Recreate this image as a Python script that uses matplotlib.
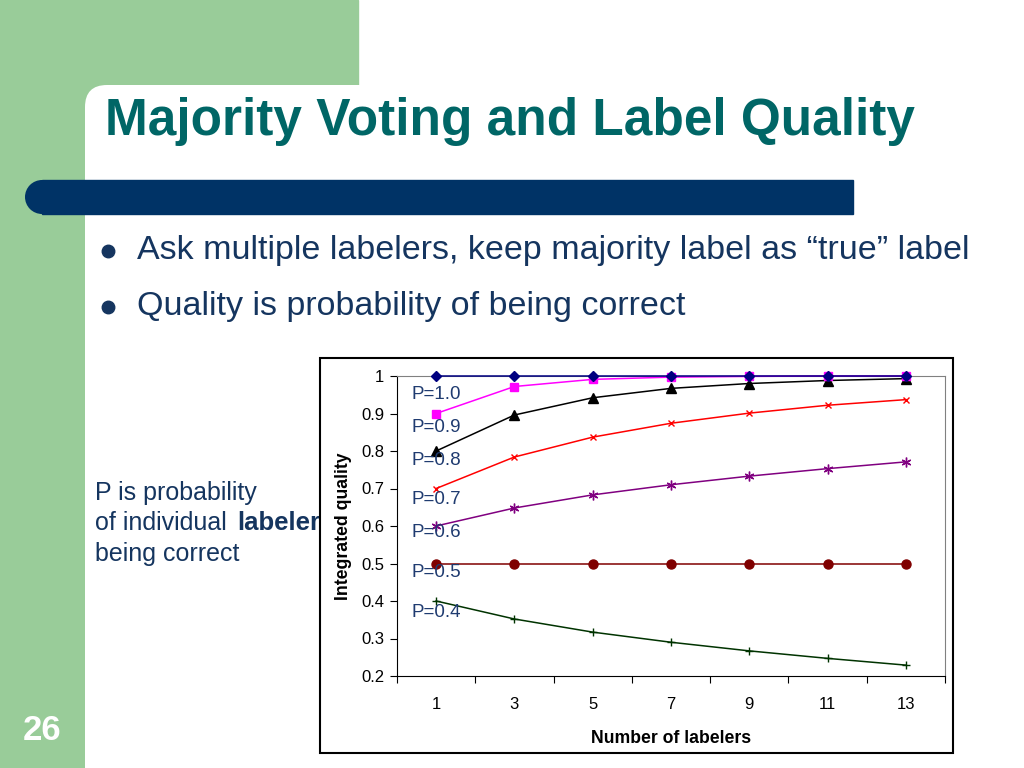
import numpy as np
import matplotlib.pyplot as plt
from matplotlib.patches import Rectangle, FancyBboxPatch, Ellipse

# data (majority vote quality)
labelers = [1, 3, 5, 7, 9, 11, 13]
p_labels = ["P=1.0", "P=0.9", "P=0.8", "P=0.7", "P=0.6", "P=0.5", "P=0.4"]
q10 = [1.0, 1.0, 1.0, 1.0, 1.0, 1.0, 1.0]
q09 = [0.900, 0.972, 0.991, 0.997, 0.999, 1.0, 1.0]
q08 = [0.800, 0.896, 0.942, 0.967, 0.980, 0.988, 0.993]
q07 = [0.700, 0.784, 0.837, 0.874, 0.901, 0.922, 0.937]
q06 = [0.600, 0.648, 0.683, 0.710, 0.733, 0.753, 0.771]
q05 = [0.500, 0.500, 0.500, 0.500, 0.500, 0.500, 0.500]
q04 = [0.400, 0.352, 0.317, 0.290, 0.267, 0.247, 0.229]
label_y = [0.95, 0.862, 0.774, 0.67, 0.582, 0.476, 0.37]

plt.rcParams['font.family'] = ['Liberation Sans', 'DejaVu Sans']

green = '#99CC99'
fig = plt.figure(figsize=(10.24, 7.68), dpi=100)
bg = fig.add_axes([0, 0, 1, 1])
bg.set_xlim(0, 1024)
bg.set_ylim(768, 0)
bg.axis('off')

# slide decoration
bg.add_patch(Rectangle((0, 0), 358, 140, color=green, zorder=0))
bg.add_patch(Rectangle((0, 0), 85, 768, color=green, zorder=0))
bg.add_patch(FancyBboxPatch((85, 85), 1100, 800, boxstyle="round,pad=0,rounding_size=22",
                            fc='white', ec='none', zorder=0.5))
bg.add_patch(Ellipse((42, 197), 34, 34, fc='#003366', ec='none', zorder=1))
bg.add_patch(Rectangle((42, 180), 811, 34, color='#003366', zorder=1))

bg.text(105, 121, "Majority Voting and Label Quality", fontsize=37, fontweight='bold',
        color='#006666', va='center', ha='left')
txtc = '#15355F'
bg.plot([108, 108], [251, 307], 'o', ms=9, color=txtc)
bg.text(137, 250, "Ask multiple labelers, keep majority label as \u201ctrue\u201d label",
        fontsize=24.5, color=txtc, va='center')
bg.text(137, 306, "Quality is probability of being correct", fontsize=24.5, color=txtc, va='center')

bg.text(95, 493, "P is probability", fontsize=18, color=txtc, va='center', zorder=1)
bg.text(95, 523, "of individual", fontsize=18, color=txtc, va='center', zorder=1)
bg.text(237, 523, "labeler", fontsize=18.5, color=txtc, va='center', fontweight='bold', zorder=1)
bg.text(95, 554, "being correct", fontsize=18, color=txtc, va='center', zorder=1)
bg.text(42, 730, "26", fontsize=25, color='white', fontweight='bold', ha='center', va='center')

# chart frame
bg.add_patch(Rectangle((320, 358), 633, 395, fc='white', ec='black', lw=1.5, zorder=2))

ax = fig.add_axes([397 / 1024, 1 - 676 / 768, 548 / 1024, 300 / 768])
ax.set_xlim(0, 14)
ax.set_ylim(0.2, 1.0)

styles = [
    (q10, '#000080', 'D', 5),
    (q09, '#FF00FF', 's', 6),
    (q08, 'black', '^', 7),
    (q07, '#FF0000', 'x', 5),
    (q06, '#800080', (6, 2, 0), 7),
    (q05, '#800000', 'o', 6.5),
    (q04, '#003300', '+', 6),
]
for vals, c, m, s in styles[::-1]:
    ax.plot(labelers, vals, color=c, marker=m, ms=s, lw=1.1, clip_on=False, zorder=3)

for lab, y in zip(p_labels, label_y):
    ax.text(0.36, y, lab, fontsize=13.5, color='#1F3B70', va='center', zorder=4)

ax.set_yticks(np.arange(0.2, 1.01, 0.1))
ax.set_yticklabels(["0.2", "0.3", "0.4", "0.5", "0.6", "0.7", "0.8", "0.9", "1"])
ax.set_xticks(range(0, 15, 2))
ax.set_xticklabels([])
ax.set_xticks(labelers, minor=True)
ax.set_xticklabels([str(v) for v in labelers], minor=True)
ax.tick_params(axis='x', which='major', length=5, direction='out')
ax.tick_params(axis='x', which='minor', length=0, pad=15, labelsize=12)
ax.tick_params(axis='y', length=5, direction='out', labelsize=12, pad=4)
ax.spines['top'].set_color('#808080')
ax.spines['right'].set_color('#808080')
ax.set_xlabel("Number of labelers", fontsize=12.7, fontweight='bold', labelpad=13)
ax.set_ylabel("Integrated quality", fontsize=12.7, fontweight='bold', labelpad=7)

fig.savefig('out.png', dpi=100)
